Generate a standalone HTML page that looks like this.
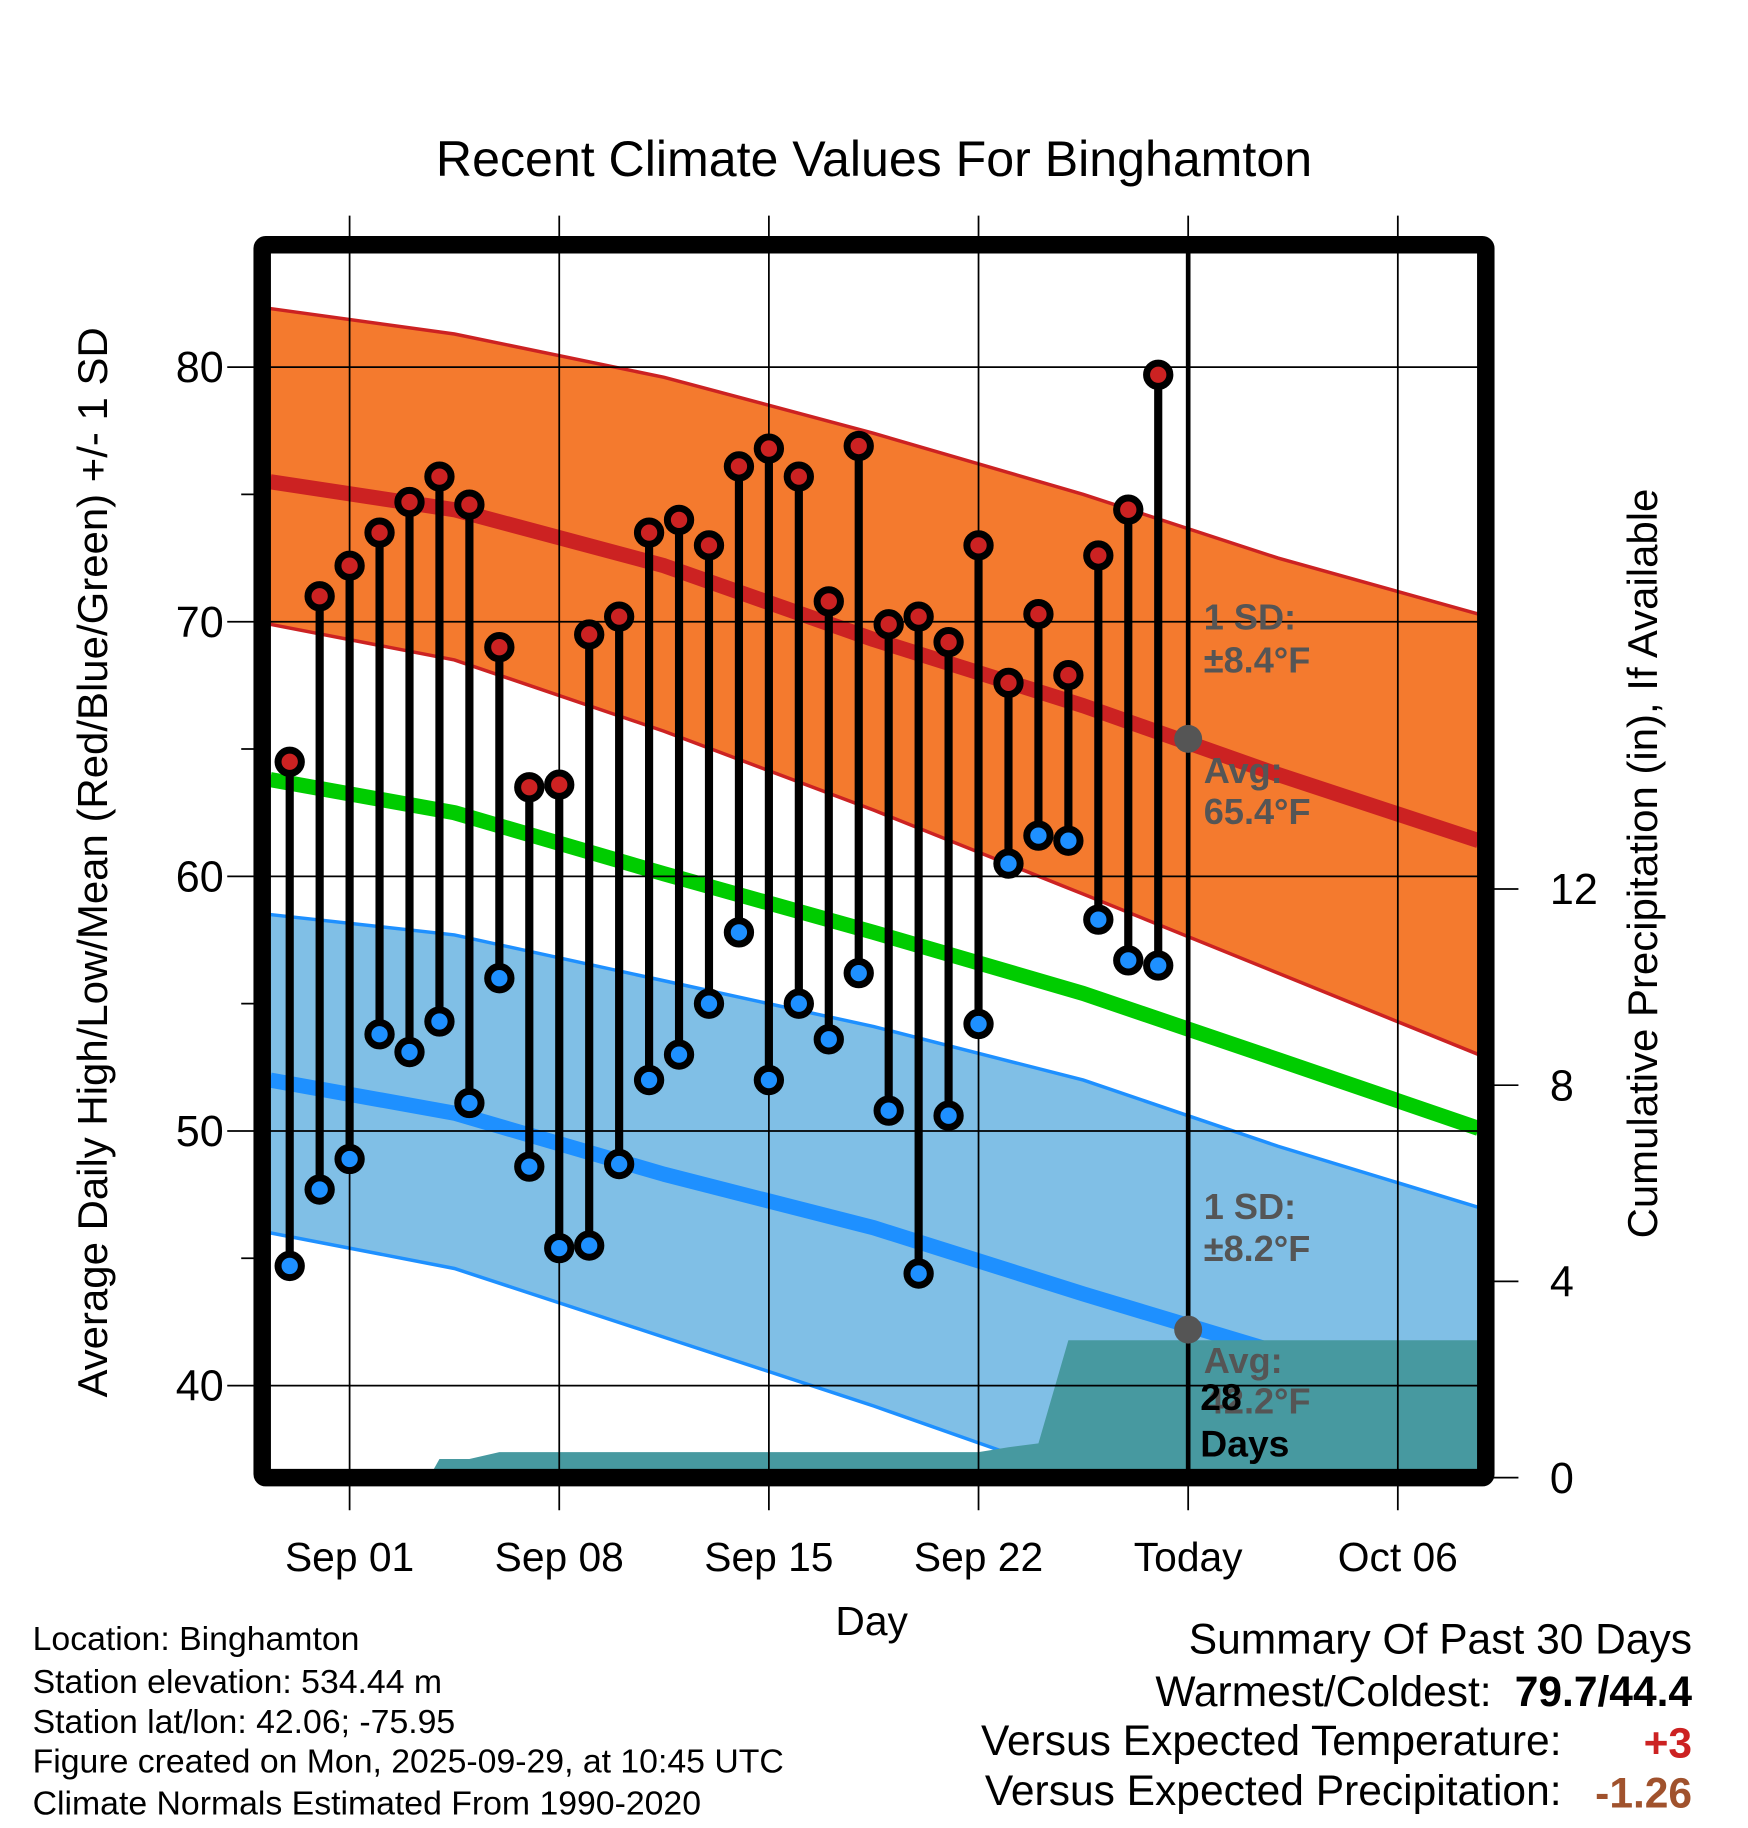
<!DOCTYPE html>
<html><head><meta charset="utf-8"><style>
html,body{margin:0;padding:0;background:#fff;}
svg{display:block;font-family:"Liberation Sans",sans-serif;}
</style></head><body>
<svg id="chart" width="1748" height="1828" viewBox="0 0 1500 1568.6" xmlns="http://www.w3.org/2000/svg">
<text x="750" y="151" font-size="43" text-anchor="middle">Recent Climate Values For Binghamton</text>
<g id="plot"></g>
<text transform="translate(92,740) rotate(-90)" font-size="36" text-anchor="middle">Average Daily High/Low/Mean (Red/Blue/Green) +/- 1 SD</text>
<text transform="translate(1422,741) rotate(-90)" font-size="36" text-anchor="middle">Cumulative Precipitation (in), If Available</text>
<text x="748" y="1403" font-size="35" text-anchor="middle">Day</text>
<g font-size="29">
<text x="28" y="1416">Location: Binghamton</text>
<text x="28" y="1453">Station elevation: 534.44 m</text>
<text x="28" y="1487">Station lat/lon: 42.06; -75.95</text>
<text x="28" y="1521">Figure created on Mon, 2025-09-29, at 10:45 UTC</text>
<text x="28" y="1557">Climate Normals Estimated From 1990-2020</text>
</g>
<g font-size="36.5" text-anchor="end">
<text x="1452" y="1419">Summary Of Past 30 Days</text>
<text x="1280" y="1464">Warmest/Coldest:</text>
<text x="1452" y="1464" font-weight="bold">79.7/44.4</text>
<text x="1340" y="1506">Versus Expected Temperature:</text>
<text x="1452" y="1508" font-weight="bold" fill="#cc2222">+3</text>
<text x="1340" y="1549">Versus Expected Precipitation:</text>
<text x="1452" y="1551" font-weight="bold" fill="#a0522d">-1.26</text>
</g>
</svg>
<script>
// Day offsets relative to Sep 01 (0 = Sep 01)
const obsDays = [-2,-1,0,1,2,3,4,5,6,7,8,9,10,11,12,13,14,15,16,17,18,19,20,21,22,23,24,25,26,27];
const highs = [64.5,71.0,72.2,73.5,74.7,75.7,74.6,69.0,63.5,63.6,69.5,70.2,73.5,74.0,73.0,76.1,76.8,75.7,70.8,76.9,69.9,70.2,69.2,73.0,67.6,70.3,67.9,72.6,74.4,79.7];
const lows = [44.7,47.7,48.9,53.8,53.1,54.3,51.1,56.0,48.6,45.4,45.5,48.7,52.0,53.0,55.0,57.8,52.0,55.0,53.6,56.2,50.8,44.4,50.6,54.2,60.5,61.6,61.4,58.3,56.7,56.5];
const normDays = [-2.65,3.5,10.5,17.5,24.5,31,37.7];
const normHigh = [75.5,74.4,72.2,69.3,66.7,64.0,61.4];
const normHighUpper = [82.3,81.3,79.6,77.4,75.0,72.5,70.3];
const normHighLower = [69.9,68.5,65.7,62.6,59.3,56.2,53.0];
const normMean = [63.8,62.5,60.1,57.8,55.4,52.8,50.1];
const normLow = [52.0,50.7,48.3,46.2,43.6,41.3,38.8];
const normLowUpper = [58.5,57.7,55.9,54.1,52.0,49.4,47.0];
const normLowLower = [46.0,44.6,41.9,39.2,36.3,33.6,31.0];
const precipDays = [-2.65,-2,-1,0,1,2,2.65,3,4,5,6,7,8,9,10,11,12,13,14,15,16,17,18,19,20,21,22,23,24,25,26,27,37.7];
const precipCum = [0,0,0,0,0,0,0,0.38,0.38,0.52,0.52,0.52,0.52,0.52,0.52,0.52,0.52,0.52,0.52,0.52,0.52,0.52,0.52,0.52,0.52,0.52,0.62,0.7,2.8,2.8,2.8,2.8,2.8];
const xTickDays = [0,7,14,21,28,35];
const xTickLabels = ["Sep 01","Sep 08","Sep 15","Sep 22","Today","Oct 06"];
const yTicks = [40,50,60,70,80];
const yMinor = [45,55,65,75];
const y2Ticks = [0,4,8,12];

const NS="http://www.w3.org/2000/svg";
const L=232,R=1268,T=217,B=1261;
const x = d => 300 + d*25.7;
const y = v => 315 + (80-v)*21.85;
const y2 = p => 1268 - p*42.1;
const plot=document.getElementById('plot');
function mk(tag,attrs,parent){const e=document.createElementNS(NS,tag);for(const k in attrs)e.setAttribute(k,attrs[k]);(parent||plot).appendChild(e);return e;}
const defs=mk('defs',{});
const cp=mk('clipPath',{id:'clip'},defs);mk('rect',{x:L,y:T,width:R-L,height:B-T},cp);
const g=mk('g',{'clip-path':'url(#clip)'});


function line(arr){return arr.map((v,i)=>x(normDays[i])+','+y(v)).join(' ');}
function band(up,lo,fill,edge,name){
  const pts=line(up)+' '+lo.map((v,i)=>x(normDays[i])+','+y(v)).reverse().join(' ');
  const p=mk('polygon',{points:pts,fill:fill},g);
  
  
  const a=mk('polyline',{points:line(up),fill:'none',stroke:edge,'stroke-width':3},g);
  
  
  const b=mk('polyline',{points:line(lo),fill:'none',stroke:edge,'stroke-width':3},g);
  
  
}
band(normHighUpper,normHighLower,'#f47a2e','#cc2222','high-sd-band');
band(normLowUpper,normLowLower,'#80bfe6','#1e90ff','low-sd-band');
[[normHigh,'#cc2222','normal-high-line'],[normMean,'#00cc00','normal-mean-line'],[normLow,'#1e90ff','normal-low-line']].forEach(([a,c,n])=>{
  const l=mk('polyline',{points:line(a),fill:'none',stroke:c,'stroke-width':13,'stroke-linejoin':'round'},g);
  
  
});
// precipitation
let pp=precipDays.map((d,i)=>x(d)+','+y2(precipCum[i])).join(' ');
pp = x(precipDays[0])+','+B+' '+pp+' '+x(precipDays[precipDays.length-1])+','+B;
const pr=mk('polygon',{points:pp,fill:'#4799a0'},g);


// grid
xTickDays.forEach(d=>{const l=mk('line',{x1:x(d),x2:x(d),y1:185,y2:1296,stroke:'#000','stroke-width':1.5});
  
  });
yTicks.forEach(v=>{const l=mk('line',{x1:195,x2:R,y1:y(v),y2:y(v),stroke:'#000','stroke-width':1.5});
  
  
  const t=mk('text',{x:192,y:y(v)+13,'font-size':37,'text-anchor':'end'});t.textContent=v;
  
  });
yMinor.forEach(v=>{const l=mk('line',{x1:207,x2:L,y1:y(v),y2:y(v),stroke:'#000','stroke-width':1.5});
  
  });
y2Ticks.forEach(p=>{const l=mk('line',{x1:1275,x2:1303,y1:y2(p),y2:y2(p),stroke:'#000','stroke-width':1.5});
  
  
  const t=mk('text',{x:1330,y:y2(p)+13,'font-size':37});t.textContent=p;
  
  });
xTickDays.forEach((d,i)=>{const t=mk('text',{x:x(d),y:1348,'font-size':35,'text-anchor':'middle'});t.textContent=xTickLabels[i];
  
  });
// today line
const td=mk('line',{x1:x(28),x2:x(28),y1:T,y2:B,stroke:'#000','stroke-width':4});


// stems and markers
obsDays.forEach((d,i)=>{
  const s=mk('line',{x1:x(d),x2:x(d),y1:y(highs[i]),y2:y(lows[i]),stroke:'#000','stroke-width':7});
  
  
});
obsDays.forEach((d,i)=>{
  [[highs[i],'#cc2222','high-marker'],[lows[i],'#1e90ff','low-marker']].forEach(([v,c,n])=>{
    const o=mk('circle',{cx:x(d),cy:y(v),r:10,fill:c,stroke:'#000','stroke-width':6});
    
    
  });
});
// annotations
const dx=x(28);
const dh=mk('circle',{cx:dx,cy:y(normHigh[5]+1.4),r:12,fill:'#555'});


const dl=mk('circle',{cx:dx,cy:y(42.2),r:12,fill:'#555'});


[['1 SD:',540,'high-sd-label'],['±8.4°F',577,'high-sd-value'],['Avg:',672,'high-avg-label'],['65.4°F',707,'high-avg-value'],
 ['1 SD:',1046,'low-sd-label'],['±8.2°F',1082,'low-sd-value'],['Avg:',1178,'low-avg-label'],['42.2°F',1213,'low-avg-value']].forEach(([s,yy,n])=>{
  const t=mk('text',{x:1033,y:yy,'font-size':31,'font-weight':'bold',fill:'#555'});t.textContent=s;
  
  
});
const t28=mk('text',{x:1030,y:1210,'font-size':32,'font-weight':'bold',fill:'#000'});t28.textContent='28';


const tdy=mk('text',{x:1030,y:1250,'font-size':32,'font-weight':'bold',fill:'#000'});tdy.textContent='Days';


// frame
const fr=mk('rect',{x:225,y:210,width:1050,height:1058,fill:'none',stroke:'#000','stroke-width':15,rx:3});


</script>
</body></html>
